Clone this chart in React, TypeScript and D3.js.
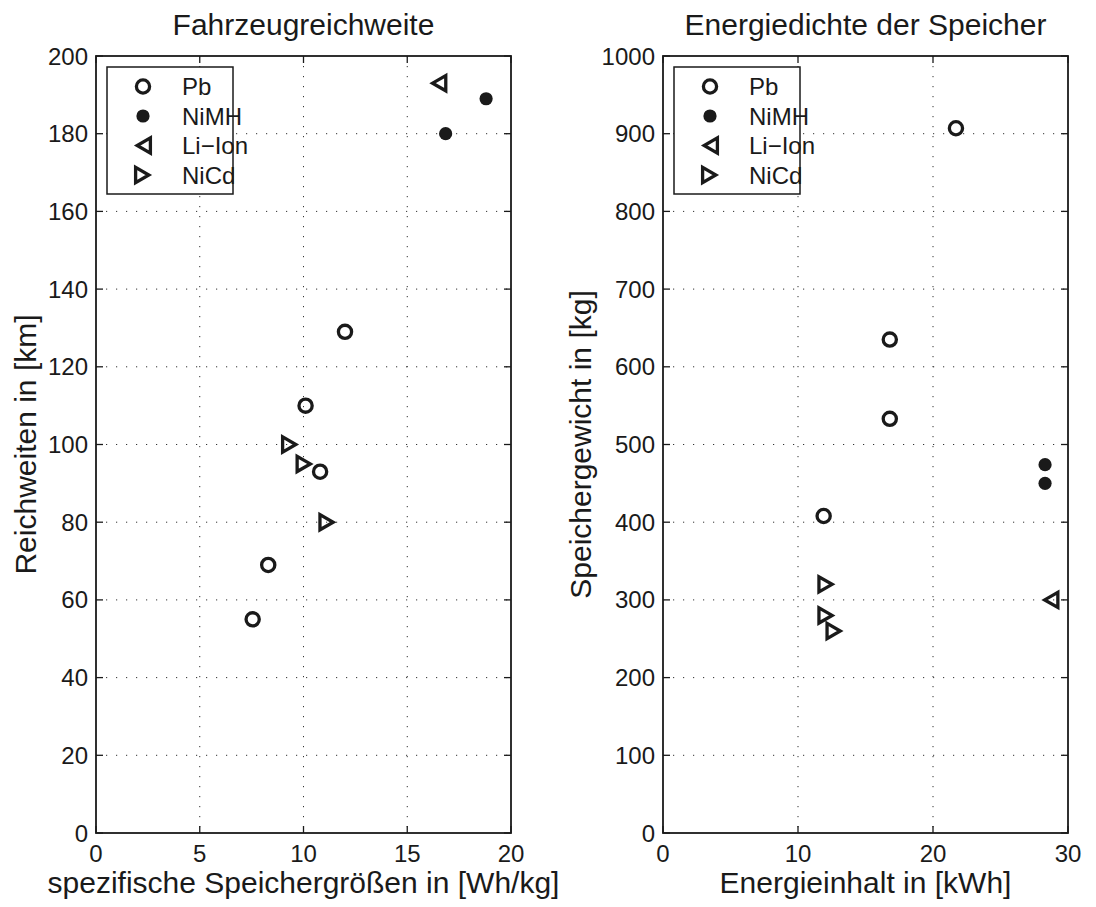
import React from "react";
import * as d3 from "d3";

// ---- Data ----
const seriesNames = ["Pb", "NiMH", "Li\u2212Ion", "NiCd"];

// Left plot: spezifische Speichergröße [Wh/kg] vs Reichweite [km]
const leftPbX = [12.0, 10.1, 10.8, 8.3, 7.55];
const leftPbY = [129, 110, 93, 69, 55];
const leftNiMHX = [18.8, 16.85];
const leftNiMHY = [189, 180];
const leftLiIonX = [16.5];
const leftLiIonY = [193];
const leftNiCdX = [9.35, 10.05, 11.15];
const leftNiCdY = [100, 95, 80];

// Right plot: Energieinhalt [kWh] vs Speichergewicht [kg]
const rightPbX = [21.7, 16.8, 16.8, 11.9];
const rightPbY = [907, 635, 533, 408];
const rightNiMHX = [28.3, 28.3];
const rightNiMHY = [474, 450];
const rightLiIonX = [28.7];
const rightLiIonY = [300];
const rightNiCdX = [12.1, 12.1, 12.7];
const rightNiCdY = [320, 280, 260];

const leftXTicks = [0, 5, 10, 15, 20];
const leftYTicks = [0, 20, 40, 60, 80, 100, 120, 140, 160, 180, 200];
const rightXTicks = [0, 10, 20, 30];
const rightYTicks = [0, 100, 200, 300, 400, 500, 600, 700, 800, 900, 1000];

const INK = "#1a1a1a";
const FONT = "Helvetica, Arial, 'Liberation Sans', sans-serif";

type MarkerKind = "o" | "dot" | "<" | ">";

function Marker({ kind, x, y }: { kind: MarkerKind; x: number; y: number }) {
  if (kind === "o")
    return <circle cx={x} cy={y} r={6.6} fill="none" stroke={INK} strokeWidth={3.3} />;
  if (kind === "dot") return <circle cx={x} cy={y} r={6.6} fill={INK} />;
  const hw = 6.6;
  const hh = 7.6;
  if (kind === ">") {
    const p = `M${x - hw - 0.8},${y - hh}L${x - hw - 0.8},${y + hh}L${x + hw - 0.8},${y}Z`;
    return <path d={p} fill="none" stroke={INK} strokeWidth={3.3} strokeLinejoin="miter" />;
  }
  const p = `M${x + hw + 0.8},${y - hh}L${x + hw + 0.8},${y + hh}L${x - hw + 0.8},${y}Z`;
  return <path d={p} fill="none" stroke={INK} strokeWidth={3.3} strokeLinejoin="miter" />;
}

interface PanelProps {
  x0: number;
  x1: number;
  y0: number;
  y1: number;
  xDomain: [number, number];
  yDomain: [number, number];
  xTicks: number[];
  yTicks: number[];
  title: string;
  xLabel: string;
  yLabel: string;
  yLabelX: number;
  series: { kind: MarkerKind; xs: number[]; ys: number[] }[];
}

function Panel(p: PanelProps) {
  const xs = d3.scaleLinear().domain(p.xDomain).range([p.x0, p.x1]);
  const ys = d3.scaleLinear().domain(p.yDomain).range([p.y1, p.y0]);
  const tl = 7;
  const lx = p.x0 + 11;
  const ly = p.y0 + 11;
  const lw = 126;
  const lh = 127;
  const kinds: MarkerKind[] = ["o", "dot", "<", ">"];
  return (
    <g>
      {/* grid */}
      {p.xTicks.slice(1, -1).map((t) => (
        <line key={"gx" + t} x1={xs(t)} x2={xs(t)} y1={p.y0} y2={p.y1} stroke="#333" strokeWidth={1} strokeDasharray="1.2 8.8" />
      ))}
      {p.yTicks.slice(1, -1).map((t) => (
        <line key={"gy" + t} x1={p.x0} x2={p.x1} y1={ys(t)} y2={ys(t)} stroke="#333" strokeWidth={1} strokeDasharray="1.2 8.8" />
      ))}
      {/* ticks */}
      {p.xTicks.map((t) => (
        <g key={"tx" + t}>
          <line x1={xs(t)} x2={xs(t)} y1={p.y1} y2={p.y1 - tl} stroke={INK} strokeWidth={1.3} />
          <line x1={xs(t)} x2={xs(t)} y1={p.y0} y2={p.y0 + tl} stroke={INK} strokeWidth={1.3} />
          <text x={xs(t)} y={p.y1 + 29} textAnchor="middle" fontSize={24} fill={INK} fontFamily={FONT}>
            {t}
          </text>
        </g>
      ))}
      {p.yTicks.map((t) => (
        <g key={"ty" + t}>
          <line x1={p.x0} x2={p.x0 + tl} y1={ys(t)} y2={ys(t)} stroke={INK} strokeWidth={1.3} />
          <line x1={p.x1} x2={p.x1 - tl} y1={ys(t)} y2={ys(t)} stroke={INK} strokeWidth={1.3} />
          <text x={p.x0 - 8} y={ys(t) + 8.5} textAnchor="end" fontSize={24} fill={INK} fontFamily={FONT}>
            {t}
          </text>
        </g>
      ))}
      {/* data */}
      {p.series.map((s, si) =>
        s.xs.map((v, i) => <Marker key={si + "-" + i} kind={s.kind} x={xs(v)} y={ys(s.ys[i])} />)
      )}
      {/* frame */}
      <rect x={p.x0} y={p.y0} width={p.x1 - p.x0} height={p.y1 - p.y0} fill="none" stroke={INK} strokeWidth={1.8} />
      {/* legend */}
      <rect x={lx} y={ly} width={lw} height={lh} fill="#fff" stroke={INK} strokeWidth={1.5} />
      {seriesNames.map((n, i) => {
        const yy = ly + 19.5 + i * 29.5;
        return (
          <g key={n}>
            <Marker kind={kinds[i]} x={lx + 36} y={yy} />
            <text x={lx + 75} y={yy + 8.5} fontSize={24} fill={INK} fontFamily={FONT}>
              {n}
            </text>
          </g>
        );
      })}
      {/* labels */}
      <text x={(p.x0 + p.x1) / 2} y={35} textAnchor="middle" fontSize={30} fill={INK} fontFamily={FONT}>
        {p.title}
      </text>
      <text x={(p.x0 + p.x1) / 2} y={893} textAnchor="middle" fontSize={30} fill={INK} fontFamily={FONT}>
        {p.xLabel}
      </text>
      <text
        transform={`translate(${p.yLabelX},${(p.y0 + p.y1) / 2}) rotate(-90)`}
        textAnchor="middle"
        fontSize={30}
        fill={INK}
        fontFamily={FONT}
      >
        {p.yLabel}
      </text>
    </g>
  );
}

export default function App() {
  return (
    <svg
      width={1096}
      height={907}
      viewBox="0 0 1096 907"
      style={{ position: "absolute", left: 0, top: 0, background: "#fff" }}
    >
      <rect width={1096} height={907} fill="#fff" />
      <Panel
        x0={96}
        x1={511}
        y0={56}
        y1={833}
        xDomain={[0, 20]}
        yDomain={[0, 200]}
        xTicks={leftXTicks}
        yTicks={leftYTicks}
        title="Fahrzeugreichweite"
        xLabel="spezifische Speichergrößen in [Wh/kg]"
        yLabel="Reichweiten in [km]"
        yLabelX={36}
        series={[
          { kind: "o", xs: leftPbX, ys: leftPbY },
          { kind: "dot", xs: leftNiMHX, ys: leftNiMHY },
          { kind: "<", xs: leftLiIonX, ys: leftLiIonY },
          { kind: ">", xs: leftNiCdX, ys: leftNiCdY },
        ]}
      />
      <Panel
        x0={663}
        x1={1068}
        y0={56}
        y1={833}
        xDomain={[0, 30]}
        yDomain={[0, 1000]}
        xTicks={rightXTicks}
        yTicks={rightYTicks}
        title="Energiedichte der Speicher"
        xLabel="Energieinhalt in [kWh]"
        yLabel="Speichergewicht in [kg]"
        yLabelX={591}
        series={[
          { kind: "o", xs: rightPbX, ys: rightPbY },
          { kind: "dot", xs: rightNiMHX, ys: rightNiMHY },
          { kind: "<", xs: rightLiIonX, ys: rightLiIonY },
          { kind: ">", xs: rightNiCdX, ys: rightNiCdY },
        ]}
      />
    </svg>
  );
}
